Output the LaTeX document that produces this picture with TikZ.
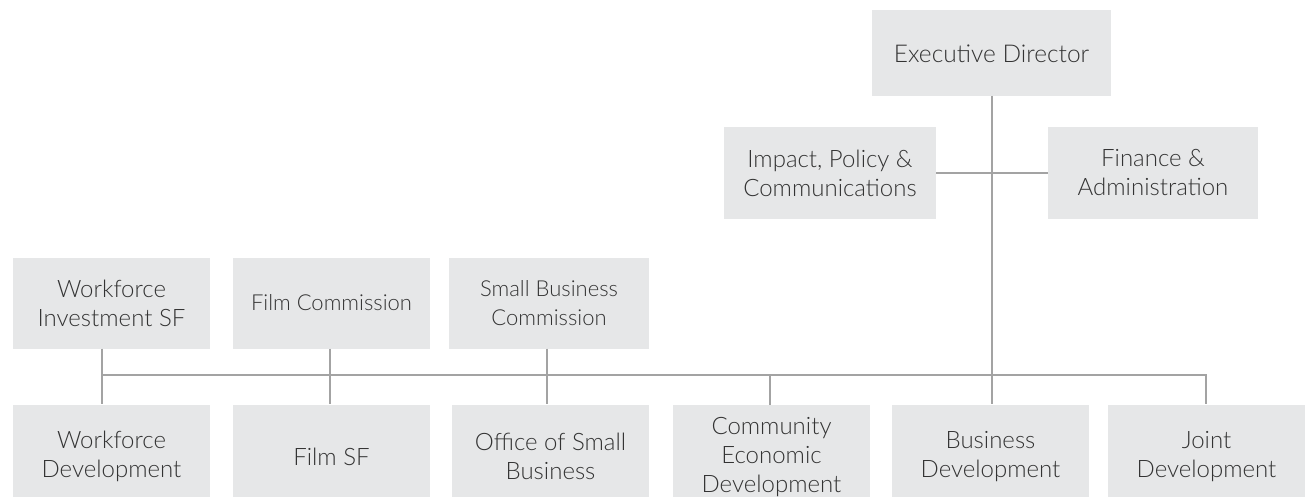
\documentclass[tikz,border=0pt]{standalone}
\usepackage{fontspec}
\setmainfont{Lato Light}
\definecolor{boxfill}{HTML}{E6E7E8}
\definecolor{linegray}{HTML}{A3A3A3}
\definecolor{txt}{HTML}{333333}
\begin{document}
\begin{tikzpicture}[x=1pt,y=-1pt,
  orgbox/.style={rectangle, fill=boxfill, inner sep=0pt, text=txt, align=center,
    font=\fontsize{24}{29}\selectfont},
  smalltext/.style={font=\fontsize{22}{29}\selectfont},
  bigtext/.style={font=\fontsize{24.5}{29}\selectfont},
  conn/.style={draw=linegray, line width=2pt}]
\useasboundingbox (0,0) rectangle (1308,497);
% top
\node[orgbox, bigtext, minimum width=239pt, minimum height=86pt] (ed) at (991.5,53.5) {Executive Director};
\node[orgbox, minimum width=212pt, minimum height=91pt] (ipc) at (830,173) {Impact, Policy \&\\Communications};
\node[orgbox, minimum width=210pt, minimum height=91pt] (fa) at (1153,173) {Finance \&\\Administration};
% commissions
\node[orgbox, minimum width=197pt, minimum height=91pt] (wis) at (111.5,303) {Workforce\\Investment SF};
\node[orgbox, smalltext, minimum width=197pt, minimum height=91pt] (fc) at (331.5,303) {Film Commission};
\node[orgbox, smalltext, minimum width=200pt, minimum height=91pt] (sbc) at (549,303) {Small Business\\Commission};
% divisions
\node[orgbox, minimum width=197pt, minimum height=104pt] (wd) at (111.5,456.5) {Workforce\\Development};
\node[orgbox, minimum width=197pt, minimum height=104pt] (fsf) at (331.5,456.5) {Film SF};
\node[orgbox, minimum width=197pt, minimum height=104pt] (osb) at (550.5,456.5) {Office of Small\\Business};
\node[orgbox, minimum width=197pt, minimum height=104pt] (ced) at (771.5,457) {Community\\Economic\\Development};
\node[orgbox, minimum width=197pt, minimum height=104pt] (bd) at (990.5,456.5) {Business\\Development};
\node[orgbox, minimum width=197pt, minimum height=104pt] (jd) at (1206.5,456.5) {Joint\\Development};
% bus coordinates
\coordinate (b1) at (102,375);
\coordinate (b2) at (330,375);
\coordinate (b3) at (547,375);
\coordinate (b4) at (770,375);
\coordinate (b5) at (992,375);
\coordinate (b6) at (1206,375);
\coordinate (edb) at (992,96);
% connectors
\draw[conn] (ipc.east) -- (fa.west);
\draw[conn] (edb) -- (b5 |- bd.north);
\draw[conn] (b1 |- wis.south) -- (b1 |- wd.north);
\draw[conn] (b2 |- fc.south) -- (b2 |- fsf.north);
\draw[conn] (b3 |- sbc.south) -- (b3 |- osb.north);
\draw[conn] (b4) -- (b4 |- ced.north);
\draw[conn] (b1) -- (b6) -- (b6 |- jd.north);
\end{tikzpicture}
\end{document}
